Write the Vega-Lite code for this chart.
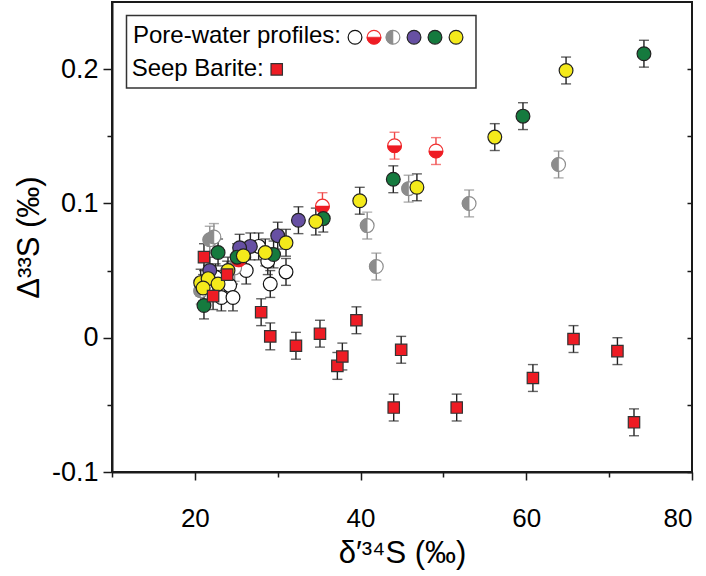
{
  "$schema": "https://vega.github.io/schema/vega-lite/v6.json",
  "width": 580,
  "height": 470,
  "autosize": "none",
  "padding": {"left": 112, "top": 2, "right": 14, "bottom": 104},
  "config": {
    "font": "Liberation Sans",
    "view": {"stroke": "#1a1a1a", "strokeWidth": 2},
    "axis": {"labelFont": "Liberation Sans", "titleFont": "Liberation Sans", "labelColor": "#000", "titleColor": "#000", "titleFontWeight": "normal", "grid": false, "domainColor": "#1a1a1a", "tickColor": "#1a1a1a", "domainWidth": 2, "tickWidth": 1.5}
  },
  "datasets": {
    "pts": [
      {"g": "open", "x": 31.0, "y": 0.049, "err": 0.01},
      {"g": "open", "x": 29.1, "y": 0.040, "err": 0.01},
      {"g": "open", "x": 27.7, "y": 0.068, "err": 0.01},
      {"g": "open", "x": 28.8, "y": 0.057, "err": 0.01},
      {"g": "open", "x": 26.2, "y": 0.050, "err": 0.01},
      {"g": "open", "x": 24.2, "y": 0.039, "err": 0.01},
      {"g": "open", "x": 23.2, "y": 0.030, "err": 0.01},
      {"g": "open", "x": 24.6, "y": 0.030, "err": 0.01},
      {"g": "open", "x": 22.5, "y": 0.045, "err": 0.01},
      {"g": "grayhalf", "x": 45.8, "y": 0.111, "err": 0.01},
      {"g": "grayhalf", "x": 53.1, "y": 0.100, "err": 0.01},
      {"g": "grayhalf", "x": 40.8, "y": 0.0835, "err": 0.01},
      {"g": "grayhalf", "x": 41.9, "y": 0.053, "err": 0.01},
      {"g": "grayhalf", "x": 63.9, "y": 0.129, "err": 0.01},
      {"g": "grayhalf", "x": 21.8, "y": 0.073, "err": 0.01},
      {"g": "grayhalf", "x": 22.3, "y": 0.075, "err": 0.01},
      {"g": "grayhalf", "x": 20.7, "y": 0.035, "err": 0.01},
      {"g": "grayhalf", "x": 24.8, "y": 0.052, "err": 0.01},
      {"g": "redhalf", "x": 44.1, "y": 0.143, "err": 0.01},
      {"g": "redhalf", "x": 49.1, "y": 0.139, "err": 0.01},
      {"g": "redhalf", "x": 35.4, "y": 0.098, "err": 0.01},
      {"g": "redhalf", "x": 25.3, "y": 0.058, "err": 0.01},
      {"g": "purple", "x": 32.5, "y": 0.0875, "err": 0.01},
      {"g": "purple", "x": 30.0, "y": 0.076, "err": 0.01},
      {"g": "purple", "x": 26.7, "y": 0.068, "err": 0.01},
      {"g": "purple", "x": 25.4, "y": 0.067, "err": 0.01},
      {"g": "purple", "x": 21.8, "y": 0.050, "err": 0.01},
      {"g": "green", "x": 74.2, "y": 0.2115, "err": 0.01},
      {"g": "green", "x": 59.6, "y": 0.165, "err": 0.01},
      {"g": "green", "x": 43.95, "y": 0.118, "err": 0.01},
      {"g": "green", "x": 35.5, "y": 0.0887, "err": 0.01},
      {"g": "green", "x": 29.5, "y": 0.062, "err": 0.01},
      {"g": "green", "x": 25.1, "y": 0.060, "err": 0.01},
      {"g": "green", "x": 22.8, "y": 0.0635, "err": 0.01},
      {"g": "green", "x": 21.1, "y": 0.024, "err": 0.01},
      {"g": "yellow", "x": 64.8, "y": 0.199, "err": 0.01},
      {"g": "yellow", "x": 56.2, "y": 0.1494, "err": 0.01},
      {"g": "yellow", "x": 46.8, "y": 0.112, "err": 0.01},
      {"g": "yellow", "x": 39.9, "y": 0.102, "err": 0.01},
      {"g": "yellow", "x": 34.6, "y": 0.0865, "err": 0.01},
      {"g": "yellow", "x": 31.0, "y": 0.0707, "err": 0.01},
      {"g": "yellow", "x": 28.5, "y": 0.0635, "err": 0.01},
      {"g": "yellow", "x": 25.85, "y": 0.061, "err": 0.01},
      {"g": "yellow", "x": 24.0, "y": 0.050, "err": 0.01},
      {"g": "yellow", "x": 20.7, "y": 0.041, "err": 0.01},
      {"g": "yellow", "x": 21.6, "y": 0.044, "err": 0.01},
      {"g": "yellow", "x": 22.8, "y": 0.040, "err": 0.01},
      {"g": "yellow", "x": 21.0, "y": 0.037, "err": 0.01},
      {"g": "barite", "x": 21.1, "y": 0.060, "err": 0.01},
      {"g": "barite", "x": 23.9, "y": 0.047, "err": 0.01},
      {"g": "barite", "x": 22.2, "y": 0.031, "err": 0.01},
      {"g": "barite", "x": 28.0, "y": 0.019, "err": 0.01},
      {"g": "barite", "x": 29.1, "y": 0.001, "err": 0.01},
      {"g": "barite", "x": 32.2, "y": -0.006, "err": 0.01},
      {"g": "barite", "x": 35.1, "y": 0.003, "err": 0.01},
      {"g": "barite", "x": 37.2, "y": -0.021, "err": 0.01},
      {"g": "barite", "x": 37.8, "y": -0.014, "err": 0.01},
      {"g": "barite", "x": 39.5, "y": 0.013, "err": 0.01},
      {"g": "barite", "x": 44.0, "y": -0.052, "err": 0.01},
      {"g": "barite", "x": 44.9, "y": -0.009, "err": 0.01},
      {"g": "barite", "x": 51.6, "y": -0.052, "err": 0.01},
      {"g": "barite", "x": 60.8, "y": -0.030, "err": 0.01},
      {"g": "barite", "x": 65.7, "y": -0.001, "err": 0.01},
      {"g": "barite", "x": 71.0, "y": -0.010, "err": 0.01},
      {"g": "barite", "x": 73.0, "y": -0.063, "err": 0.01},
      {"g": "open", "x": 39.33, "y": 0.2238},
      {"g": "redhalf", "x": 41.62, "y": 0.2238},
      {"g": "grayhalf", "x": 43.91, "y": 0.2238},
      {"g": "purple", "x": 46.45, "y": 0.2238},
      {"g": "green", "x": 48.98, "y": 0.2238},
      {"g": "yellow", "x": 51.52, "y": 0.2238},
      {"g": "barite", "x": 29.88, "y": 0.1998}
    ],
    "box": [{"x": 11.75, "x2": 53.93, "y": 0.1859, "y2": 0.2399}],
    "labels": [
      {"x": 12.53, "y": 0.2193, "t": "Pore-water profiles:"},
      {"x": 12.37, "y": 0.1946, "t": "Seep Barite:"}
    ]
  },
  "layer": [
    {
      "encoding": {
        "x": {"field": "x", "type": "quantitative",
          "scale": {"domain": [10, 80], "nice": false, "zero": false},
          "axis": {"orient": "bottom", "title": "δ′³⁴S (‰)", "titleFontSize": 31, "titlePadding": 7,
            "values": [10, 20, 30, 40, 50, 60, 70, 80], "labelFontSize": 26, "labelPadding": 25,
            "labelExpr": "datum.value % 20 === 0 ? datum.label : ''",
            "tickSize": {"condition": {"test": "datum.value % 20 === 0", "value": 8}, "value": 5}}},
        "y": {"field": "y", "type": "quantitative",
          "scale": {"domain": [-0.1, 0.25], "nice": false, "zero": false},
          "axis": {"orient": "left", "title": "Δ³³S (‰)", "titleFontSize": 31, "titlePadding": 6,
            "values": [-0.1, -0.05, 0, 0.05, 0.1, 0.15, 0.2], "labelFontSize": 27, "labelPadding": 5,
            "labelExpr": "round(datum.value*20) % 2 === 0 ? (datum.value === 0 ? '0' : (datum.value < 0 ? '-' + format(-datum.value, '.1f') : format(datum.value, '.1f'))) : ''",
            "tickSize": {"condition": {"test": "round(datum.value*20) % 2 === 0", "value": 9}, "value": 5}}}
      },
      "layer": [
        {
          "data": {"name": "box"},
          "mark": {"type": "rect", "fill": "white", "stroke": "#333", "strokeWidth": 1.5},
          "encoding": {"x2": {"field": "x2"}, "y2": {"field": "y2"}}
        },
        {
          "data": {"name": "labels"},
          "mark": {"type": "text", "align": "left", "baseline": "alphabetic", "fontSize": 24, "color": "#000"},
          "encoding": {"text": {"field": "t"}}
        },
        {
          "data": {"name": "pts"},
          "transform": [{"filter": "datum.err > 0"}],
          "mark": {"type": "errorbar", "ticks": {"size": 10}, "thickness": 1.4},
          "encoding": {
            "yError": {"field": "err"},
            "color": {"field": "g", "type": "nominal", "legend": null,
              "scale": {"domain": ["open", "grayhalf", "redhalf", "purple", "green", "yellow", "barite"],
                        "range": ["#222", "#8c8c8c", "#f04545", "#222", "#222", "#222", "#222"]}}
          }
        },
        {
          "data": {"name": "pts"},
          "transform": [{"filter": "datum.g === 'open'"}],
          "mark": {"type": "point", "shape": "circle", "filled": true, "fill": "white", "stroke": "#111", "strokeWidth": 1.2, "size": 190, "opacity": 1}
        },
        {
          "data": {"name": "pts"},
          "transform": [{"filter": "datum.g === 'grayhalf'"}],
          "mark": {"type": "point", "shape": "circle", "filled": true, "fill": "white", "stroke": "#8c8c8c", "strokeWidth": 1.2, "size": 190, "opacity": 1}
        },
        {
          "data": {"name": "pts"},
          "transform": [{"filter": "datum.g === 'grayhalf'"}],
          "mark": {"type": "point", "shape": "M0,-1A1,1,0,0,0,0,1Z", "filled": true, "fill": "#8c8c8c", "stroke": "#8c8c8c", "strokeWidth": 0.6, "size": 190, "opacity": 1}
        },
        {
          "data": {"name": "pts"},
          "transform": [{"filter": "datum.g === 'redhalf'"}],
          "mark": {"type": "point", "shape": "circle", "filled": true, "fill": "white", "stroke": "#f03030", "strokeWidth": 1.2, "size": 190, "opacity": 1}
        },
        {
          "data": {"name": "pts"},
          "transform": [{"filter": "datum.g === 'redhalf'"}],
          "mark": {"type": "point", "shape": "M-1,0A1,1,0,0,0,1,0Z", "filled": true, "fill": "#ee1c24", "stroke": "#ee1c24", "strokeWidth": 0.6, "size": 190, "opacity": 1}
        },
        {
          "data": {"name": "pts"},
          "transform": [{"filter": "datum.g === 'purple'"}],
          "mark": {"type": "point", "shape": "circle", "filled": true, "fill": "#6750a3", "stroke": "#222", "strokeWidth": 1.2, "size": 190, "opacity": 1}
        },
        {
          "data": {"name": "pts"},
          "transform": [{"filter": "datum.g === 'green'"}],
          "mark": {"type": "point", "shape": "circle", "filled": true, "fill": "#157a3e", "stroke": "#222", "strokeWidth": 1.2, "size": 190, "opacity": 1}
        },
        {
          "data": {"name": "pts"},
          "transform": [{"filter": "datum.g === 'yellow'"}],
          "mark": {"type": "point", "shape": "circle", "filled": true, "fill": "#f4ea1b", "stroke": "#222", "strokeWidth": 1.2, "size": 190, "opacity": 1}
        },
        {
          "data": {"name": "pts"},
          "transform": [{"filter": "datum.g === 'barite'"}],
          "mark": {"type": "point", "shape": "square", "filled": true, "fill": "#ee1c24", "stroke": "#333", "strokeWidth": 1.2, "size": 130, "opacity": 1}
        }
      ]
    },
    {
      "data": {"name": "box"},
      "mark": {"type": "point", "opacity": 0},
      "encoding": {
        "y": {"field": "y", "type": "quantitative",
          "axis": {"orient": "right", "title": null, "labels": false, "domain": false,
            "values": [-0.1, -0.05, 0, 0.05, 0.1, 0.15, 0.2], "tickSize": -5}}
      }
    }
  ]
}
